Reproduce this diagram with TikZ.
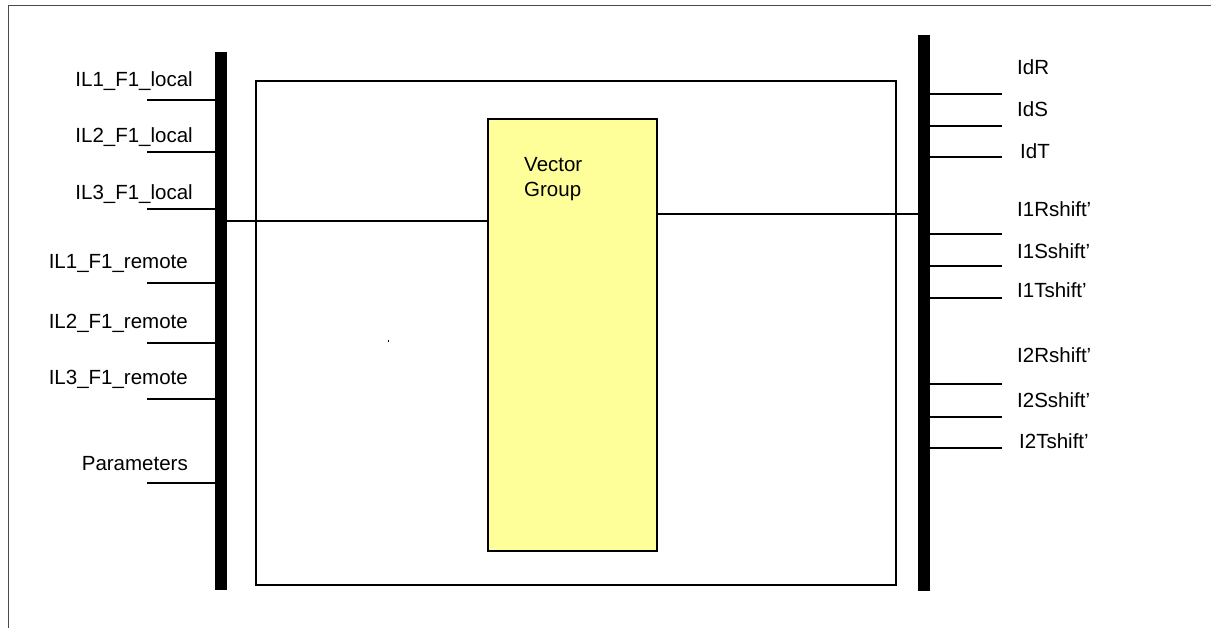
\documentclass[tikz,border=0pt]{standalone}
\usepackage{fontspec}
\setmainfont{Liberation Sans}
\definecolor{vgyellow}{HTML}{FFFF99}
\definecolor{framegray}{HTML}{4A4A4A}
\begin{document}
\begin{tikzpicture}[x=1pt,y=-1pt,
  wire/.style={draw=black,line width=1.3pt},
  busbar/.style={draw=none,fill=black,inner sep=0pt,minimum width=12pt},
  lab/.style={inner sep=0pt,font=\fontsize{20.5}{25}\selectfont},
  inlab/.style={lab,anchor=base east},
  outlab/.style={lab,anchor=base west}]
\useasboundingbox (0,0) rectangle (1211,628);
% outer frame
\draw[framegray,line width=1.3pt] (8.5,628) -- (8.5,5.5) -- (1211,5.5);
% bars and boxes
\node[busbar,minimum height=538pt] (lbar) at (221,321) {};
\node[busbar,minimum height=556pt] (rbar) at (924,313) {};
\node[draw=black,line width=1.3pt,inner sep=0pt,minimum width=640pt,minimum height=504pt] (frame) at (576,333) {};
\node[draw=black,fill=vgyellow,line width=2.2pt,inner sep=0pt,minimum width=169pt,minimum height=432pt] (vg) at (572.5,335) {};
\node[outlab] (vg1) at (524,172) {Vector};
\node[outlab] (vg2) at (524,197) {Group};
% tiny dot
\fill (387.5,340.5) rectangle (389,342);
% input lines
\foreach \n/\y/\ly/\t/\lx in {a/100/87/IL1\_F1\_local/193, b/152/143/IL2\_F1\_local/193, c/209/200/IL3\_F1\_local/193,
  d/283/269/IL1\_F1\_remote/188, e/343/329/IL2\_F1\_remote/188, f/399/385/IL3\_F1\_remote/188, g/483/471/Parameters/188}{
  \coordinate (in\n) at (147,\y);
  \draw[wire] (in\n) -- (in\n -| lbar.west);
  \node[inlab] (inlab\n) at (\lx,\ly) {\t};
}
% output lines
\foreach \n/\y/\ly/\t/\lx in {a/94/75/IdR/1017, b/126/117/IdS/1017, c/157/159/IdT/1020,
  d/234/217/I1Rshift’/1017, e/266/259/I1Sshift’/1017, f/298/298/I1Tshift’/1017,
  g/384/363/I2Rshift’/1017, h/417/408/I2Sshift’/1017, i/448/448/I2Tshift’/1019}{
  \coordinate (out\n) at (1002,\y);
  \draw[wire] (out\n -| rbar.east) -- (out\n);
  \node[outlab] (outlab\n) at (\lx,\ly) {\t};
}
% connectors
\coordinate (jl) at (0,221);
\coordinate (jr) at (0,214);
\draw[wire] (lbar.east |- jl) -- (vg.west |- jl);
\draw[wire] (vg.east |- jr) -- (rbar.west |- jr);
\end{tikzpicture}
\end{document}
